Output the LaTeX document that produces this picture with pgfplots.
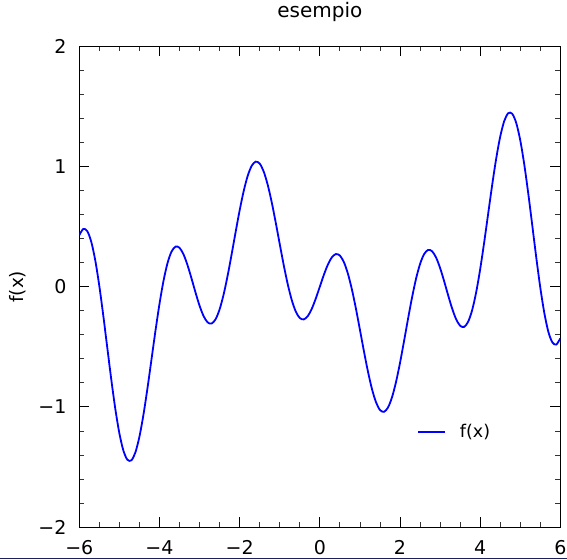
\documentclass[border=0pt]{standalone}
\usepackage{pgfplots}
\pgfplotsset{compat=1.18}
\usepackage{fontspec}
\setmainfont{DejaVu Sans}
\pgfplotstableread{
x y
-6.0 0.4296
-5.9 0.4812
-5.8 0.4625
-5.7 0.3724
-5.6 0.2161
-5.5 0.0052
-5.4 -0.2442
-5.3 -0.5125
-5.2 -0.7778
-5.1 -1.0201
-5.0 -1.2205
-4.9 -1.3639
-4.8 -1.4401
-4.7 -1.4446
-4.6 -1.3783
-4.5 -1.2482
-4.4 -1.0658
-4.3 -0.8463
-4.2 -0.6073
-4.1 -0.3673
-4.0 -0.1438
-3.9 0.0478
-3.8 0.1956
-3.7 0.2919
-3.6 0.3341
-3.5 0.3244
-3.4 0.2694
-3.3 0.1797
-3.2 0.0688
-3.1 -0.0486
-3.0 -0.1574
-2.9 -0.2437
-2.8 -0.2961
-2.7 -0.3063
-2.6 -0.2703
-2.5 -0.1884
-2.4 -0.0651
-2.3 0.0913
-2.2 0.2694
-2.1 0.4555
-2.0 0.6353
-1.9 0.7949
-1.8 0.9218
-1.7 1.0061
-1.6 1.0414
-1.5 1.0252
-1.4 0.9594
-1.3 0.8493
-1.2 0.7040
-1.1 0.5352
-1.0 0.3561
-0.9 0.1804
-0.8 0.0212
-0.7 -0.1104
-0.6 -0.2058
-0.5 -0.2601
-0.4 -0.2720
-0.3 -0.2443
-0.2 -0.1831
-0.1 -0.0979
0.0 0.0
0.1 0.0979
0.2 0.1831
0.3 0.2443
0.4 0.2720
0.5 0.2601
0.6 0.2058
0.7 0.1104
0.8 -0.0212
0.9 -0.1804
1.0 -0.3561
1.1 -0.5352
1.2 -0.7040
1.3 -0.8493
1.4 -0.9594
1.5 -1.0252
1.6 -1.0414
1.7 -1.0061
1.8 -0.9218
1.9 -0.7949
2.0 -0.6353
2.1 -0.4555
2.2 -0.2694
2.3 -0.0913
2.4 0.0651
2.5 0.1884
2.6 0.2703
2.7 0.3063
2.8 0.2961
2.9 0.2437
3.0 0.1574
3.1 0.0486
3.2 -0.0688
3.3 -0.1797
3.4 -0.2694
3.5 -0.3244
3.6 -0.3341
3.7 -0.2919
3.8 -0.1956
3.9 -0.0478
4.0 0.1438
4.1 0.3673
4.2 0.6073
4.3 0.8463
4.4 1.0658
4.5 1.2482
4.6 1.3783
4.7 1.4446
4.8 1.4401
4.9 1.3639
5.0 1.2205
5.1 1.0201
5.2 0.7778
5.3 0.5125
5.4 0.2442
5.5 -0.0052
5.6 -0.2161
5.7 -0.3724
5.8 -0.4625
5.9 -0.4812
6.0 -0.4296
}\fdata
\begin{document}
\begin{tikzpicture}
\begin{axis}[
  name=ax,
  scale only axis,
  width=481pt, height=480.5pt,
  xmin=-6, xmax=6, ymin=-2, ymax=2,
  xtick={-6,-4,-2,0,2,4,6},
  xticklabels={−6,−4,−2,0,2,4,6},
  ytick={-2,-1,0,1,2},
  yticklabels={−2,−1,0,1,2},
  minor x tick num=3,
  minor y tick num=4,
  tick align=inside,
  xtick pos=both, ytick pos=both,
  major tick length=10pt, minor tick length=5pt,
  every tick/.style={black, line width=0.8pt},
  every minor tick/.style={black!80, line width=0.7pt},
  axis line style={line width=0.9pt},
  tick label style={font=\fontsize{19}{22}\selectfont},
  xticklabel style={anchor=north, inner sep=0pt, yshift=-13.6pt},
  yticklabel style={anchor=east, inner sep=0pt, xshift=-12.6pt},
  title={esempio},
  title style={font=\fontsize{20}{24}\selectfont, at={(axis description cs:0.5,1)}, anchor=base, yshift=22.5pt},
  ylabel={f(x)},
  every axis y label/.style={at={(axis description cs:-0.1274,0.5)}, rotate=90, anchor=center, font=\fontsize{18.5}{22}\selectfont},
  legend style={at={(axis description cs:0.702,0.198)}, anchor=west, draw=none, fill=none, inner sep=0pt, font=\fontsize{17.5}{21}\selectfont, nodes={inner sep=0pt}},
  legend image code/.code={\draw[#1] (0pt,0pt) -- (27pt,0pt); \path (41pt,0pt);},
]
\addplot[blue, line width=1.8pt, smooth] table[x=x, y=y] {\fdata};
\addlegendentry{f(x)}
\end{axis}
\pgfresetboundingbox
\path[use as bounding box] ([xshift=-79.3pt,yshift=-32pt]ax.south west) rectangle ([xshift=6.7pt,yshift=46.5pt]ax.north east);
\draw[color={rgb,255:red,30;green,30;blue,90}, line width=1pt] ([xshift=-79.3pt,yshift=-31.5pt]ax.south west) -- ([xshift=6.7pt,yshift=-31.5pt]ax.south east);
\end{tikzpicture}
\end{document}
